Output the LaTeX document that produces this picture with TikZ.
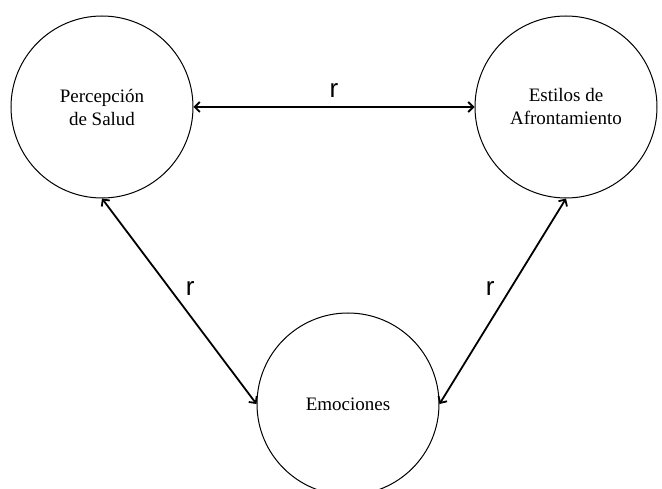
\documentclass[tikz,border=0pt]{standalone}
\usepackage{fontspec}
\setmainfont{Liberation Serif}
\newfontfamily\labelfont{Liberation Sans}
\usetikzlibrary{arrows.meta}

\begin{document}
\begin{tikzpicture}[x=1pt,y=-1pt,
  bubble/.style={draw, circle, minimum size=182pt, inner sep=0pt, line width=1pt, align=center, font=\fontsize{19}{23}\selectfont},
  link/.style={<->, > = {Straight Barb[length=5pt,width=10pt]}, line width=1.8pt},
  rlabel/.style={inner sep=0pt, font=\labelfont\fontsize{26}{30}\selectfont}]
\useasboundingbox (0,0) rectangle (662,489);
\clip (0,0) rectangle (662,489);

\node[bubble] (salud) at (102,107) {Percepción\\de Salud};
\node[bubble] (estilos) at (566,107) {Estilos de\\Afrontamiento};
\node[bubble] (emociones) at (348,404) {Emociones};

\draw[link] (salud) -- node[rlabel, above=9pt] {r} (estilos);
\draw[link] (salud.south) -- node[rlabel, pos=0.44, right=15pt] {r} (emociones.west);
\draw[link] (estilos.south) -- node[rlabel, pos=0.44, left=15pt] {r} (emociones.east);

\end{tikzpicture}
\end{document}
